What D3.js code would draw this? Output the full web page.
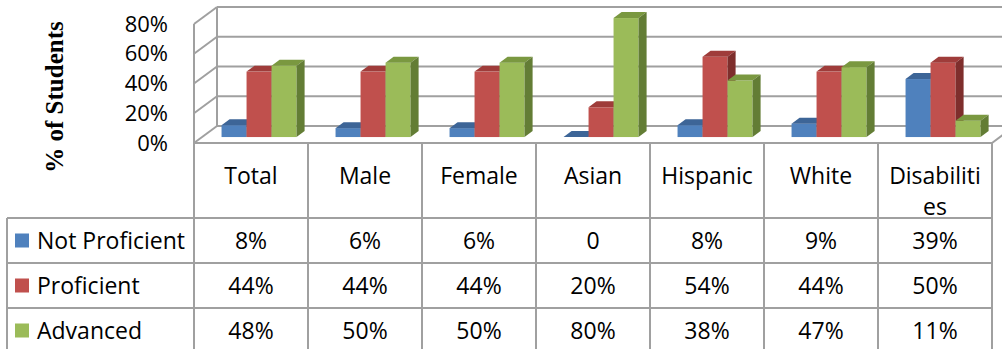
<html>
<head>
    <meta charset="utf-8">
    <title>Students by proficiency</title>
    <style>
        body { margin: 0; background: #fff; }
        text { font-family: "Open Sans", sans-serif; fill: #000; }
        .grid line, .table line { stroke: #a0a0a0; stroke-width: 2px; }
    </style>
</head>
<body>
    <svg width="1002" height="349"></svg>
    <script src="https://d3js.org/d3.v7.min.js"></script>
    <script>
        var categories = ["Total", "Male", "Female", "Asian", "Hispanic", "White", "Disabilities"];
        var headerLines = [["Total"], ["Male"], ["Female"], ["Asian"], ["Hispanic"], ["White"], ["Disabiliti", "es"]];
        var seriesNames = ["Not Proficient", "Proficient", "Advanced"];
        var notProficient = [0.08, 0.06, 0.06, 0, 0.08, 0.09, 0.39];
        var proficient = [0.44, 0.44, 0.44, 0.20, 0.54, 0.44, 0.50];
        var advanced = [0.48, 0.50, 0.50, 0.80, 0.38, 0.47, 0.11];
        var yTicks = [0, 0.2, 0.4, 0.6, 0.8];

        var seriesValues = [notProficient, proficient, advanced];
        var front = ["#4f81bd", "#c0504d", "#9bbb59"];
        var top_ = ["#3d6597", "#9f3c3a", "#7a9840"];
        var side = ["#365a86", "#7e2e2c", "#637d35"];

        var svg = d3.select("svg");

        // floor/plot geometry
        var x = d3.scaleBand().domain(categories).range([194, 992]);
        var xs = d3.scaleBand().domain(seriesNames).range([0, x.bandwidth()]).paddingOuter(0.78);
        var y = d3.scaleLinear().domain([0, 0.8]).range([143, 24]);
        var depth = [23, -17];   // full depth of the floor
        var z0 = 0.35, z1 = 0.7; // bar front / back
        function off(z) { return [depth[0] * z, depth[1] * z]; }

        var pct = d3.format(".0%");

        // walls and gridlines
        var grid = svg.append("g").attr("class", "grid");
        yTicks.forEach(function (t) {
            grid.append("line")
                .attr("x1", 194).attr("y1", y(t))
                .attr("x2", 194 + depth[0]).attr("y2", y(t) + depth[1]);
            grid.append("line")
                .attr("x1", 194 + depth[0]).attr("y1", y(t) + depth[1])
                .attr("x2", 992 + depth[0]).attr("y2", y(t) + depth[1]);
        });
        grid.append("line")
            .attr("x1", 194 + depth[0]).attr("y1", y(0.8) + depth[1])
            .attr("x2", 194 + depth[0]).attr("y2", y(0) + depth[1]);
        grid.append("line")
            .attr("x1", 194).attr("y1", y(0.8))
            .attr("x2", 194).attr("y2", y(0));
        grid.append("line")
            .attr("x1", 992).attr("y1", y(0))
            .attr("x2", 992 + depth[0]).attr("y2", y(0) + depth[1]);

        // y tick labels
        svg.append("g").selectAll("text")
            .data(yTicks)
            .enter().append("text")
            .attr("x", 168)
            .attr("y", function (d) { return y(d); })
            .attr("dy", "0.35em")
            .attr("text-anchor", "end")
            .style("font-size", "22px")
            .text(pct);

        // axis title
        svg.append("text")
            .attr("transform", "translate(63,97) rotate(-90)")
            .attr("text-anchor", "middle")
            .style("font-family", "'Liberation Serif', serif")
            .style("font-weight", "bold")
            .style("font-size", "25px")
            .text("% of Students");

        // 3d bars
        var o0 = off(z0), d = off(z1 - z0);
        var bars = svg.append("g");
        categories.forEach(function (c, i) {
            seriesNames.forEach(function (s, j) {
                var v = seriesValues[j][i];
                var x0 = x(c) + xs(s) + o0[0], x1 = x0 + xs.bandwidth();
                var yb = y(0) + o0[1], yt = y(v) + o0[1];
                var g = bars.append("g");
                g.append("rect")
                    .attr("x", x0).attr("y", yt)
                    .attr("width", x1 - x0).attr("height", yb - yt)
                    .attr("fill", front[j]);
                g.append("polygon")
                    .attr("points", [[x0, yt], [x1, yt], [x1 + d[0], yt + d[1]], [x0 + d[0], yt + d[1]]].join(" "))
                    .attr("fill", top_[j]);
                g.append("polygon")
                    .attr("points", [[x1, yt], [x1 + d[0], yt + d[1]], [x1 + d[0], yb + d[1]], [x1, yb]].join(" "))
                    .attr("fill", side[j]);
            });
        });

        // data table
        var rowTop = 218, rowH = 45;
        var table = svg.append("g").attr("class", "table");
        table.append("line")
            .attr("x1", 194).attr("y1", y(0)).attr("x2", 992).attr("y2", y(0));
        x.domain().concat(["end"]).forEach(function (c) {
            var xx = c === "end" ? 992 : x(c);
            table.append("line")
                .attr("x1", xx).attr("y1", y(0)).attr("x2", xx).attr("y2", 360);
        });
        table.append("line")
            .attr("x1", 7).attr("y1", rowTop).attr("x2", 7).attr("y2", 360);
        d3.range(seriesNames.length + 1).forEach(function (r) {
            table.append("line")
                .attr("x1", 7).attr("y1", rowTop + r * rowH)
                .attr("x2", 992).attr("y2", rowTop + r * rowH);
        });

        // header labels
        categories.forEach(function (c, i) {
            var t = svg.append("text")
                .attr("text-anchor", "middle")
                .style("font-size", "23px");
            headerLines[i].forEach(function (line, k) {
                t.append("tspan")
                    .attr("x", x(c) + x.bandwidth() / 2)
                    .attr("y", 184 + k * 31)
                    .text(line);
            });
        });

        // legend cells and values
        seriesNames.forEach(function (s, j) {
            var cy = rowTop + j * rowH + rowH / 2;
            svg.append("rect")
                .attr("x", 15).attr("y", cy - 7)
                .attr("width", 14).attr("height", 14)
                .attr("fill", front[j]);
            svg.append("text")
                .attr("x", 37).attr("y", cy)
                .attr("dy", "0.35em")
                .style("font-size", "23px")
                .text(s);
            categories.forEach(function (c, i) {
                var v = seriesValues[j][i];
                svg.append("text")
                    .attr("x", x(c) + x.bandwidth() / 2)
                    .attr("y", cy)
                    .attr("dy", "0.35em")
                    .attr("text-anchor", "middle")
                    .style("font-size", "23px")
                    .text(v === 0 ? "0" : pct(v));
            });
        });
    </script>
</body>
</html>
